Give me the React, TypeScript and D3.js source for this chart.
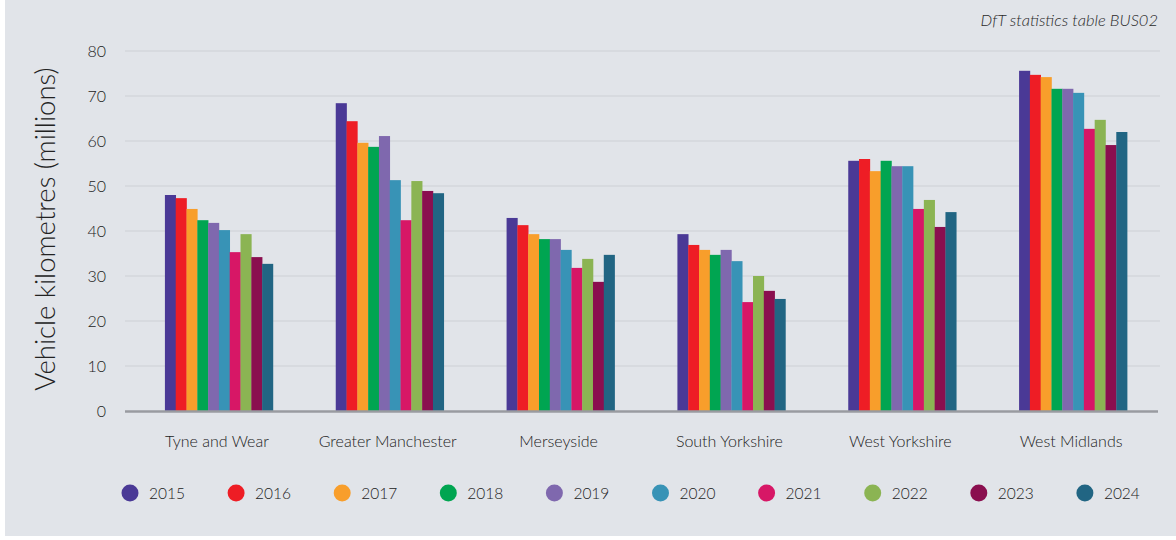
import React from 'react';
import * as d3 from 'd3';

const regions = ['Tyne and Wear', 'Greater Manchester', 'Merseyside', 'South Yorkshire', 'West Yorkshire', 'West Midlands'];
const years = ['2015', '2016', '2017', '2018', '2019', '2020', '2021', '2022', '2023', '2024'];
const yearColors = ['#4a3996', '#ee1d25', '#f89e2b', '#00a551', '#7f68ae', '#3893b6', '#d71766', '#8bb453', '#8a0f4f', '#216583'];

// values per region, in year order 2015..2024
const tyneAndWear = [48.0, 47.3, 44.9, 42.4, 41.8, 40.2, 35.3, 39.3, 34.2, 32.7];
const greaterManchester = [68.4, 64.4, 59.6, 58.7, 61.1, 51.3, 42.4, 51.1, 48.9, 48.4];
const merseyside = [42.9, 41.3, 39.3, 38.2, 38.2, 35.8, 31.8, 33.8, 28.7, 34.7];
const southYorkshire = [39.3, 36.9, 35.8, 34.7, 35.8, 33.3, 24.2, 30.0, 26.7, 24.9];
const westYorkshire = [55.6, 56.0, 53.3, 55.6, 54.4, 54.4, 44.9, 46.9, 40.9, 44.2];
const westMidlands = [75.6, 74.7, 74.2, 71.6, 71.6, 70.7, 62.7, 64.7, 59.1, 62.0];
const seriesByRegion = [tyneAndWear, greaterManchester, merseyside, southYorkshire, westYorkshire, westMidlands];
const yTicks = [0, 10, 20, 30, 40, 50, 60, 70, 80];

const W = 1176;
const H = 540;
const font = 'Lato, "Open Sans", sans-serif';

export default function App() {
  const x = d3.scaleBand<string>().domain(regions).range([133.5, 1158.5]).paddingInner(0).paddingOuter(0);
  const groupW = 108;
  const xi = d3.scaleBand<string>().domain(years).range([0, groupW]);
  const y = d3.scaleLinear().domain([0, 80]).range([411, 51]);

  return (
    <div style={{ position: 'fixed', left: 0, top: 0, width: W, height: H, background: '#fff' }}>
      <svg width={W} height={H} style={{ display: 'block' }}>
        <rect x={5} y={0} width={W - 5} height={536} fill="#e1e4e9" />
        <text x={1158} y={26} textAnchor="end" fontFamily={font} fontStyle="italic" fontWeight={300} fontSize={16.5} fill="#2a2a2a">
          DfT statistics table BUS02
        </text>
        {yTicks.map(t => (
          <g key={t}>
            {t > 0 && <line x1={125} x2={1160} y1={y(t)} y2={y(t)} stroke="#cdd0d5" strokeWidth={1} />}
            <text x={106} y={y(t) + 5.5} textAnchor="end" fontFamily={font} fontWeight={300} fontSize={16} fill="#222">{t}</text>
          </g>
        ))}
        <text transform={`translate(55,${y(40) - 2}) rotate(-90)`} textAnchor="middle" fontFamily={font} fontWeight={300} fontSize={27.5} fill="#222">
          Vehicle kilometres (millions)
        </text>
        {regions.map((r, ri) => {
          const cx = (x(r) ?? 0) + x.bandwidth() / 2;
          const gx = cx - groupW / 2;
          return (
            <g key={r}>
              {seriesByRegion[ri].map((v, yi) => (
                <rect key={yi} x={gx + (xi(years[yi]) ?? 0)} y={y(v)} width={xi.bandwidth() + 0.3} height={y(0) - y(v)} fill={yearColors[yi]} />
              ))}
              <text x={cx - 2} y={446.5} textAnchor="middle" fontFamily={font} fontWeight={300} fontSize={16} fill="#222">{r}</text>
            </g>
          );
        })}
        <line x1={125} x2={1158} y1={y(0) + 0.5} y2={y(0) + 0.5} stroke="#999ba0" strokeWidth={2.5} />
        {years.map((yr, i) => {
          const lx = 130 + i * 106.1;
          return (
            <g key={yr}>
              <circle cx={lx} cy={493} r={8.5} fill={yearColors[i]} />
              <text x={lx + 19} y={499} fontFamily={font} fontWeight={300} fontSize={15.5} fill="#222">{yr}</text>
            </g>
          );
        })}
      </svg>
    </div>
  );
}
